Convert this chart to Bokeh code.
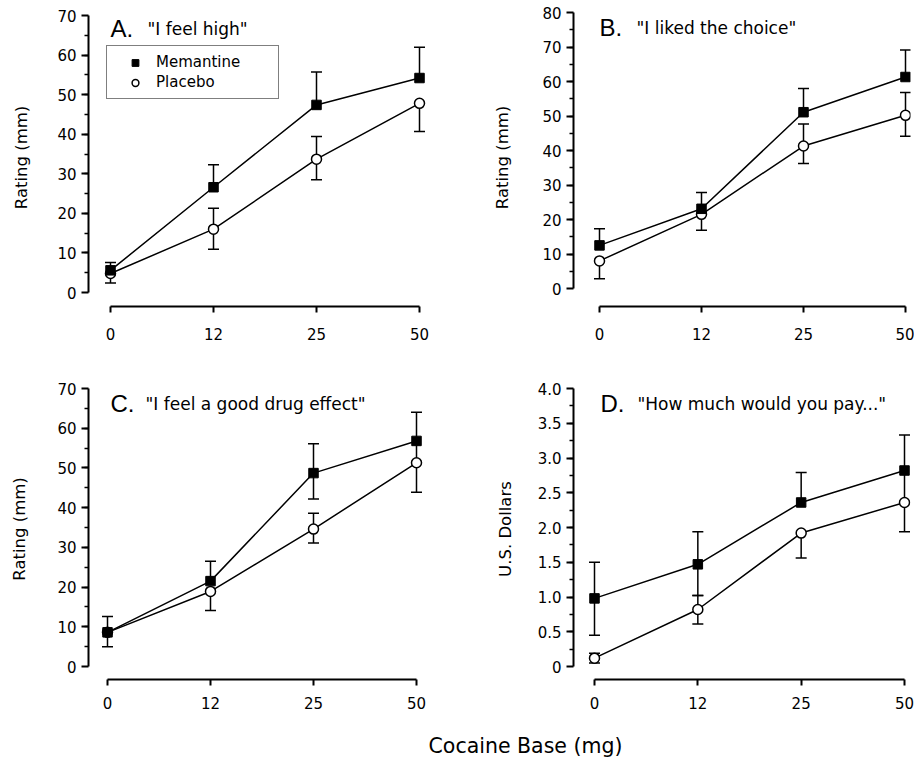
import math
from bokeh.plotting import figure
from bokeh.layouts import column, row
from bokeh.models import FixedTicker, Label, Legend, LegendItem
from bokeh.embed import file_html
from bokeh.resources import INLINE

NAN = float("nan")

doses = ["0", "12", "25", "50"]

# Panel A  "I feel high"
a_mem = [5.6, 26.6, 47.4, 54.2]
a_mem_hi = [7.6, 32.3, 55.7, 62.0]
a_mem_lo = [NAN, NAN, NAN, NAN]
a_pla = [4.8, 16.0, 33.7, 47.8]
a_pla_hi = [NAN, 21.3, 39.4, NAN]
a_pla_lo = [2.4, 10.9, 28.5, 40.7]

# Panel B  "I liked the choice"
b_mem = [12.5, 23.1, 51.1, 61.3]
b_mem_hi = [17.3, 27.8, 58.0, 69.1]
b_mem_lo = [NAN, NAN, NAN, NAN]
b_pla = [8.0, 21.5, 41.3, 50.2]
b_pla_hi = [NAN, NAN, 47.7, 56.8]
b_pla_lo = [2.8, 16.9, 36.2, 44.1]

# Panel C  "I feel a good drug effect"
c_mem = [8.6, 21.5, 48.7, 56.8]
c_mem_hi = [12.6, 26.5, 56.1, 64.0]
c_mem_lo = [NAN, NAN, 42.2, 51.3]
c_pla = [8.6, 18.9, 34.6, 51.3]
c_pla_hi = [NAN, NAN, 38.6, NAN]
c_pla_lo = [5.0, 14.1, 31.1, 43.9]

# Panel D  "How much would you pay..."
d_mem = [0.98, 1.47, 2.36, 2.82]
d_mem_hi = [1.50, 1.94, 2.79, 3.33]
d_mem_lo = [0.45, 1.02, NAN, 2.36]
d_pla = [0.12, 0.82, 1.92, 2.36]
d_pla_hi = [0.19, 1.02, NAN, NAN]
d_pla_lo = [0.05, 0.61, 1.56, 1.94]

rating_ticks = [0, 10, 20, 30, 40, 50, 60, 70, 80]
rating_labels = ["0", "10", "20", "30", "40", "50", "60", "70", "80"]
dollar_ticks = [0, 0.5, 1.0, 1.5, 2.0, 2.5, 3.0, 3.5, 4.0]
dollar_labels = ["0", "0.5", "1.0", "1.5", "2.0", "2.5", "3.0", "3.5", "4.0"]

FONT = "DejaVu Sans"


def lin(p_a, p_b, v_a, v_b, f_a, f_b):
    s = (v_b - v_a) / (p_b - p_a)
    return v_a + (f_a - p_a) * s, v_a + (f_b - p_a) * s


def panel(canvas, frame, xpix, ypix, ymax, ticks, labels, minor_step,
          mem, mem_hi, mem_lo, pla, pla_hi, pla_lo,
          letter, title, ylab, title_dy, lab_standoff, letter_dx, title_dx,
          x_standoff, legend=False):
    cl, ct, cw, ch = canvas
    fl, ft, fr, fb = frame
    x0, x3 = xpix
    y0, ytop = ypix
    xs_all = list(range(len(doses)))
    xr = lin(x0, x3, 0, len(doses) - 1, fl, fr)
    yr = lin(y0, ytop, 0, ymax, fb, ft)
    p = figure(width=cw, height=ch, x_range=xr, y_range=yr,
               output_backend="svg", toolbar_location=None,
               min_border_left=fl - cl, min_border_right=cl + cw - fr,
               min_border_top=ft - ct, min_border_bottom=ct + ch - fb)
    p.outline_line_color = None
    p.xgrid.visible = False
    p.ygrid.visible = False
    p.background_fill_color = "white"
    p.border_fill_color = "white"

    yt = [t for t in ticks if t <= ymax + 1e-9]
    yl = [labels[i] for i, t in enumerate(ticks) if t <= ymax + 1e-9]
    minors = []
    k = 1
    while k * minor_step < ymax - 1e-9:
        minors.append(k * minor_step)
        k += 1
    ax = p.yaxis[0]
    ax.ticker = FixedTicker(ticks=yt, minor_ticks=minors)
    ax.major_label_overrides = {t: l for t, l in zip(yt, yl)}
    ax.bounds = (0, ymax)
    ax.axis_line_width = 2
    ax.major_tick_line_width = 2
    ax.minor_tick_line_width = 1.5
    ax.major_tick_out = 7
    ax.major_tick_in = 0
    ax.minor_tick_out = 4
    ax.minor_tick_in = 0
    ax.major_label_text_font = FONT
    ax.major_label_text_font_size = "15px"
    ax.major_label_text_color = "black"
    ax.major_label_standoff = 5
    ax.axis_label = ylab
    ax.axis_label_text_font = FONT
    ax.axis_label_text_font_size = "16.5px"
    ax.axis_label_text_font_style = "normal"
    ax.axis_label_text_color = "black"
    ax.axis_label_standoff = lab_standoff

    bx = p.xaxis[0]
    bx.ticker = FixedTicker(ticks=xs_all, minor_ticks=[])
    bx.major_label_overrides = {i: d for i, d in enumerate(doses)}
    bx.bounds = (0, len(doses) - 1)
    bx.axis_line_width = 2
    bx.major_tick_line_width = 2
    bx.major_tick_out = 6
    bx.major_tick_in = 0
    bx.minor_tick_out = 0
    bx.minor_tick_in = 0
    bx.major_label_text_font = FONT
    bx.major_label_text_font_size = "15px"
    bx.major_label_text_color = "black"
    bx.major_label_standoff = x_standoff

    p.line(xs_all, mem, line_color="black", line_width=1.5)
    p.line(xs_all, pla, line_color="black", line_width=1.5)

    for vals, ends in ((mem, mem_hi), (mem, mem_lo), (pla, pla_hi), (pla, pla_lo)):
        idx = [i for i in range(len(vals)) if not math.isnan(ends[i])]
        if not idx:
            continue
        xx = [xs_all[i] for i in idx]
        vv = [vals[i] for i in idx]
        ee = [ends[i] for i in idx]
        p.segment(x0=xx, y0=vv, x1=xx, y1=ee, line_color="black", line_width=1.5)
        p.scatter(xx, ee, marker="dash", size=11, line_color="black", line_width=1.5)

    pr = p.scatter(xs_all, pla, marker="circle", size=10, fill_color="white",
                   line_color="black", line_width=1.5)
    mr = p.scatter(xs_all, mem, marker="square", size=9.5, fill_color="black",
                   line_color="black", line_width=1)

    p.add_layout(Label(x=0, y=ymax, x_offset=letter_dx, y_offset=-title_dy, text=letter,
                       text_font="Liberation Sans", text_font_size="24px",
                       text_baseline="alphabetic", text_color="black"))
    p.add_layout(Label(x=0, y=ymax, x_offset=title_dx, y_offset=-title_dy, text=title,
                       text_font=FONT, text_font_size="17px",
                       text_baseline="alphabetic", text_color="black"))

    if legend:
        leg = Legend(items=[LegendItem(label="Memantine", renderers=[mr]),
                            LegendItem(label="Placebo", renderers=[pr])],
                     location=legend, orientation="vertical",
                     border_line_color="black", border_line_width=1.5,
                     background_fill_color="white", background_fill_alpha=1,
                     label_text_font=FONT, label_text_font_size="15px",
                     label_text_color="black",
                     padding=7, spacing=2, margin=0,
                     glyph_width=42, glyph_height=17, label_height=17,
                     label_width=115, label_standoff=0)
        p.add_layout(leg)
    return p


# canvas: (left, top, width, height); frame: (left, top, right, bottom)
pA = panel((0, 0, 461, 370), (88, 8, 440, 306), (110, 419), (292, 15), 70,
           rating_ticks, rating_labels, 5,
           a_mem, a_mem_hi, a_mem_lo, a_pla, a_pla_hi, a_pla_lo,
           "A.", '"I feel high"', "Rating (mm)", 13, 23, 0, 37, 15, legend=(18, 207))
pB = panel((461, 0, 453, 370), (573, 8, 910, 306), (599, 905), (288, 12), 80,
           rating_ticks, rating_labels, 5,
           b_mem, b_mem_hi, b_mem_lo, b_pla, b_pla_hi, b_pla_lo,
           "B.", '"I liked the choice"', "Rating (mm)", 15, 27, 0, 37, 15)
pC = panel((0, 370, 461, 358), (88, 378, 440, 679), (107, 416), (666, 388), 70,
           rating_ticks, rating_labels, 5,
           c_mem, c_mem_hi, c_mem_lo, c_pla, c_pla_hi, c_pla_lo,
           "C.", '"I feel a good drug effect"', "Rating (mm)", 15, 25, 3, 38, 11)
pD = panel((461, 370, 453, 358), (573, 378, 910, 679), (594, 904), (666, 388), 4.0,
           dollar_ticks, dollar_labels, 0.25,
           d_mem, d_mem_hi, d_mem_lo, d_pla, d_pla_hi, d_pla_lo,
           "D.", '"How much would you pay..."', "U.S. Dollars", 15, 20, 6, 43, 11)

pL = figure(width=914, height=31, x_range=(0, 914), y_range=(0, 31),
            output_backend="svg", toolbar_location=None, min_border=0)
pL.axis.visible = False
pL.grid.visible = False
pL.outline_line_color = None
pL.add_layout(Label(x=525, y=14, text="Cocaine Base (mg)", text_font=FONT,
                    text_font_size="20.5px", text_align="center",
                    text_baseline="middle", text_color="black"))

layout = column(row(pA, pB, spacing=0), row(pC, pD, spacing=0), pL, spacing=0)
open("out.html", "w").write(file_html(layout, INLINE))
